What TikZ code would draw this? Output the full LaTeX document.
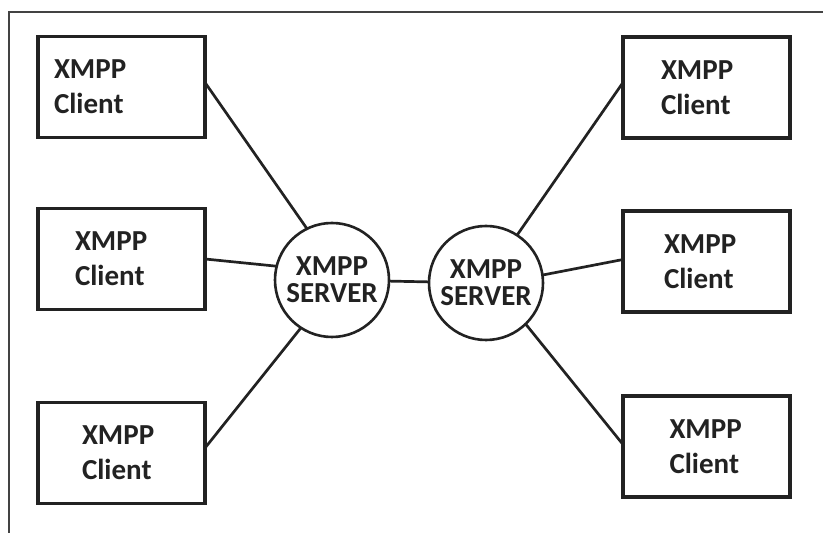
\documentclass[tikz,border=0pt]{standalone}
\usepackage{fontspec}
\setmainfont{Carlito}
\usetikzlibrary{positioning}
\definecolor{ink}{HTML}{222222}
\tikzset{
	client/.style={draw=ink, line width=1.6pt, inner sep=0pt, outer sep=0pt,
		minimum width=83.5pt, minimum height=50.5pt, align=left,
		font=\bfseries\fontsize{14.5}{17.5}\selectfont, text=ink},
	server/.style={circle, draw=ink, line width=1.3pt, inner sep=0pt, outer sep=0pt,
		minimum size=57pt, align=center,
		font=\bfseries\fontsize{14.5}{13.5}\selectfont, text=ink},
	link/.style={draw=ink, line width=1.35pt}
}
\begin{document}
\begin{tikzpicture}[
				x=0.5pt, y=-0.5pt
			]
				\useasboundingbox (0,0) rectangle (823,533);
				\draw[ink!85, line width=0.75pt] (823,12) -- (9,12) -- (9,533);
				\node [server] (srvL) at (332,280) {XMPP\\SERVER};
				\node [server, right=20pt of srvL, yshift=-1.5pt] (srvR) {XMPP\\SERVER};
				\node [client, text width=46.5pt, left=35pt of srvL, yshift=10.5pt] (cl2) {XMPP\\Client};
				\node [client, text width=67.5pt, above=35.5pt of cl2] (cl1) {XMPP\\Client};
				\node [client, text width=39.5pt, below=46.5pt of cl2] (cl3) {XMPP\\Client};
				\node [client, text width=42.5pt, right=40pt of srvR, yshift=10.75pt] (cr2) {XMPP\\Client};
				\node [client, text width=45.5pt, above=36.5pt of cr2] (cr1) {XMPP\\Client};
				\node [client, text width=37pt, below=42pt of cr2] (cr3) {XMPP\\Client};
				\path[link]
					([yshift=2.25pt]cl1.east) edge (srvL.116)
					(cl2.east) edge (srvL.166)
					([yshift=2.5pt]cl3.east) edge (srvL.237)
					(srvL) edge (srvR)
					(srvR.57) edge ([yshift=2.5pt]cr1.west)
					(srvR.8) edge ([yshift=1pt]cr2.west)
					(srvR.-46) edge ([yshift=1pt]cr3.west);
			\end{tikzpicture}
\end{document}
